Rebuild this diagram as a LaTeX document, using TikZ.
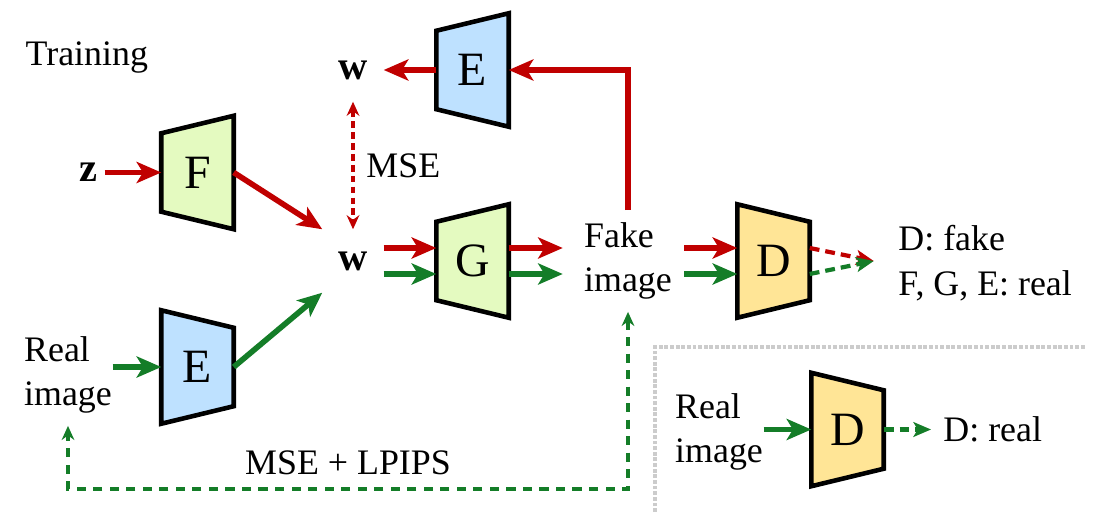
\documentclass[tikz,border=0pt]{standalone}
\usepackage{fontspec}
\setmainfont{LiberationSerif}[Extension=.ttf, UprightFont=*-Regular,
  BoldFont=*-Bold, ItalicFont=*-Italic, BoldItalicFont=*-BoldItalic]
\usetikzlibrary{arrows.meta,backgrounds,calc}
\definecolor{fakered}{RGB}{192,0,0}
\definecolor{realgreen}{RGB}{20,125,40}
\definecolor{encblue}{RGB}{190,225,255}
\definecolor{genlime}{RGB}{228,250,192}
\definecolor{discyellow}{RGB}{255,229,150}

\begin{document}
\begin{tikzpicture}[x=0.01cm, y=0.01cm,
    font=\fontsize{10.2}{12.6}\selectfont,
    net/.style={minimum width=0.71cm, minimum height=1.12cm, inner sep=0pt,
      font=\fontsize{13.6}{14}\selectfont},
    lat/.style={inner sep=2pt, font=\fontsize{11.5}{12}\selectfont\bfseries},
    hub/.style={lat, minimum width=0.6cm, minimum height=0.62cm, inner sep=0pt},
    txt/.style={align=left},
    block/.style={draw=black, line width=1.3pt, line join=miter},
    fakeflow/.style={draw=fakered, line width=1.6pt,
      -{Stealth[length=7pt, width=6pt, inset=1.8pt]}},
    realflow/.style={fakeflow, draw=realgreen},
    scoreflow/.style={line width=1.2pt, dash pattern=on 2.8pt off 1.7pt,
      -{Stealth[length=5pt, width=4.2pt, inset=1.2pt]}},
    mseline/.style={draw=fakered, line width=1pt, dash pattern=on 1.9pt off 1.2pt,
      {Stealth[length=4pt, width=3.6pt]}-{Stealth[length=4pt, width=3.6pt]}},
    recline/.style={draw=realgreen, line width=1.1pt, dash pattern=on 2.6pt off 2.1pt,
      {Stealth[length=4pt, width=3.6pt]}-{Stealth[length=4pt, width=3.6pt]}},
    panel/.style={draw=gray!40, line width=1.3pt, dash pattern=on 1.1pt off 0.5pt}]
    \useasboundingbox (0,0) rectangle (1113,512);

    % Training
    \node[anchor=base west, inner sep=0pt] (title) at (25,446) {Training};
    \node[lat] (z) at (88,339.5) {z};
    \node[net] (F) at (197.5,339.5) {F};
    \node[hub] (wt) at (353,442) {w};
    \node[hub] (wb) at (353,251) {w};
    \node[net] (Et) at (472.5,442) {E};
    \node[net] (G) at (472.5,251) {G};
    \node[txt] (fake) at (628,251) {Fake\\image};
    \node[net] (D) at (773.5,251) {D};
    \coordinate (dtip) at ($(D.east)+(64,0)$);
    \node[txt, anchor=west] (verdict) at (886,249) {D: fake\\F, G, E: real};
    \node[txt, inner xsep=0pt] (real) at (68,137) {Real\\image};
    \node[net] (Eb) at (197.5,145) {E};

    \draw[fakeflow] (z) -- (F);
    \draw[fakeflow] (F.east) -- (wb.north west);
    \draw[realflow] (real.east |- Eb.west) -- (Eb.west);
    \draw[realflow] (Eb.east) -- (wb.south west);
    \draw[mseline] (wt.south) -- node[right] (msetxt) {MSE} (wb.north);
    \draw[fakeflow] ($(wb.east)+(0,13)$) -- ($(G.west)+(0,13)$);
    \draw[realflow] ($(wb.east)+(0,-13)$) -- ($(G.west)+(0,-13)$);
    \draw[fakeflow, shorten >=0.09cm] ($(G.east)+(0,13)$) -- ($(fake.west)+(0,13)$);
    \draw[realflow, shorten >=0.09cm] ($(G.east)+(0,-13)$) -- ($(fake.west)+(0,-13)$);
    \draw[fakeflow] ($(fake.east)+(0,13)$) -- ($(D.west)+(0,13)$);
    \draw[realflow] ($(fake.east)+(0,-13)$) -- ($(D.west)+(0,-13)$);
    \draw[fakeflow] (fake.north) |- (Et.east);
    \draw[fakeflow] (Et) -- (wt);
    \draw[scoreflow, draw=fakered] ($(D.east)+(0,13)$) -- (dtip);
    \draw[scoreflow, draw=realgreen] ($(D.east)+(0,-13)$) -- (dtip);

    % reconstruction loss
    \coordinate (lossy) at (0,23);
    \draw[recline] (fake.south) -- (fake.south |- lossy)
      -- node[above] (rectxt) {MSE + LPIPS} (real.south |- lossy) -- (real.south);

    % D on real images
    \draw[panel] (655,0) -- (655,165) -- (1085,165);
    \node[txt, inner xsep=0pt] (real2) at (719,80) {Real\\image};
    \node[net] (Db) at (847.5,82.5) {D};
    \node[anchor=west] (dreal) at (931,82.5) {D: real};
    \draw[realflow] (real2.east |- Db.west) -- (Db.west);
    \draw[scoreflow, draw=realgreen] (Db) -- (dreal);

    % trapezoid bodies
    \begin{scope}[on background layer]
      \foreach \n/\c in {Et/encblue, F/genlime, G/genlime}
        \filldraw[block, fill=\c] (\n.north east) -- (\n.south east)
          -- ([yshift=0.175cm]\n.south west) -- ([yshift=-0.175cm]\n.north west) -- cycle;
      \foreach \n/\c in {Eb/encblue, D/discyellow, Db/discyellow}
        \filldraw[block, fill=\c] (\n.north west) -- (\n.south west)
          -- ([yshift=0.175cm]\n.south east) -- ([yshift=-0.175cm]\n.north east) -- cycle;
    \end{scope}
\end{tikzpicture}
\end{document}
